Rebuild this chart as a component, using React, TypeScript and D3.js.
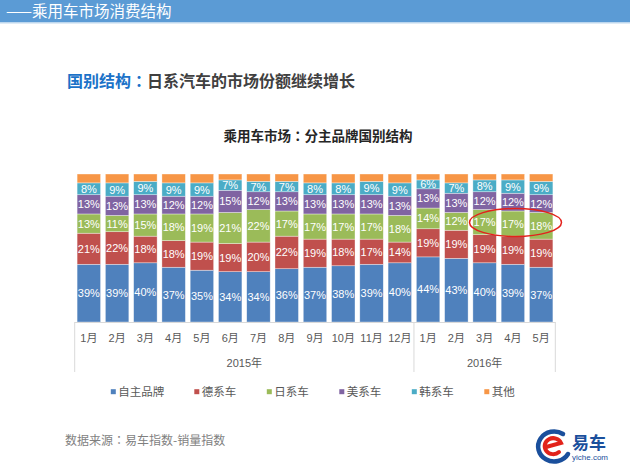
import React from "react";
import * as d3 from "d3";

const months = ["1月","2月","3月","4月","5月","6月","7月","8月","9月","10月","11月","12月","1月","2月","3月","4月","5月"];
const years = [{ label: "2015年", start: 0, end: 12 }, { label: "2016年", start: 12, end: 17 }];
const seriesNames = ["自主品牌","德系车","日系车","美系车","韩系车","其他"];
const seriesColors = ["#4f81bd","#c0504d","#9bbb59","#8064a2","#4bacc6","#f79646"];
const domestic = [39,39,40,37,35,34,34,36,37,38,39,40,44,43,40,39,37];
const german = [21,22,18,18,19,19,20,22,19,18,17,14,19,19,19,19,19];
const japanese = [13,11,15,18,19,21,22,17,17,17,17,18,14,12,17,17,18];
const american = [13,13,13,12,12,15,12,13,13,13,13,13,13,13,12,12,12];
const korean = [8,9,9,9,9,7,7,7,8,8,9,9,6,7,8,9,9];
const others = [6,6,5,6,6,4,5,5,6,6,5,6,4,6,4,4,5];
const labeledSeries = 5;

const FONT = "'Liberation Sans', Arial, 'Noto Sans CJK SC', sans-serif";
const CJK = "'Noto Sans CJK SC', 'Liberation Sans', sans-serif";
const COLON = "'Noto Sans CJK JP', 'Noto Sans CJK SC', sans-serif";

export default function App() {
  const left = 74.7, right = 555.3, top = 174, bottom = 322;
  const x = d3.scaleBand<number>().domain(d3.range(months.length)).range([left, right]).paddingInner(0.17).paddingOuter(0.085);
  const y = d3.scaleLinear().domain([0, 100]).range([bottom, top]);
  const rows = months.map((m, i) => ({
    i,
    s0: domestic[i], s1: german[i], s2: japanese[i], s3: american[i], s4: korean[i], s5: others[i],
  }));
  const keys = ["s0","s1","s2","s3","s4","s5"];
  const stack = d3.stack<any>().keys(keys)(rows);
  const step = (right - left) / months.length;
  const boundary = (k: number) => left + k * step;

  let lx = 113.3;
  const legendItems = seriesNames.map((n, i) => {
    const item = { n, x: lx, c: seriesColors[i] };
    lx += n.length * 11 + 39.5;
    return item;
  });

  return (
    <svg width={630} height={472} style={{ position: "absolute", left: 0, top: 0, background: "#fff" }}>
      <rect x={0} y={0} width={630} height={472} fill="#fff" />
      {/* header */}
      <rect x={0} y={0} width={630} height={22} fill="#5b9bd5" />
      <rect x={0} y={22} width={630} height={1.5} fill="#bdd7ee" />
      <text x={6} y={16.5} fill="#fff" fontSize={15.5} fontFamily={CJK}>——乘用车市场消费结构</text>

      {/* subtitle */}
      <text x={67} y={86.5} fontSize={16} fontWeight="bold" fontFamily={CJK}>
        <tspan fill="#1b72c8">国别结构</tspan>
        <tspan fill="#1b72c8" fontFamily={COLON}>：</tspan>
        <tspan fill="#404040">日系汽车的市场份额继续增长</tspan>
      </text>

      {/* chart title */}
      <text x={318} y={141} textAnchor="middle" fontSize={13.5} fontWeight="bold" fill="#262626" fontFamily={CJK}>
        <tspan>乘用车市场</tspan>
        <tspan fontFamily={COLON}>：</tspan>
        <tspan>分主品牌国别结构</tspan>
      </text>

      {/* bars */}
      {stack.map((layer, si) => (
        <g key={si}>
          {layer.map((d: any, i: number) => (
            <g key={i}>
              <rect x={x(i)} y={y(d[1])} width={x.bandwidth()} height={y(d[0]) - y(d[1])}
                fill={seriesColors[si]} stroke="#ffffff" strokeOpacity={0.6} strokeWidth={0.6} />
              {si < labeledSeries && (
                <text x={(x(i) as number) + x.bandwidth() / 2} y={(y(d[0]) + y(d[1])) / 2 + 4}
                  textAnchor="middle" fill="#fff" fontSize={11} fontFamily={FONT}>
                  {`${d[1] - d[0]}%`}
                </text>
              )}
            </g>
          ))}
        </g>
      ))}

      {/* axis */}
      <line x1={left} x2={right} y1={bottom + 0.5} y2={bottom + 0.5} stroke="#d9d9d9" strokeWidth={1} />
      {[0, 12, 17].map(k => (
        <line key={k} x1={boundary(k)} x2={boundary(k)} y1={bottom} y2={372} stroke="#d9d9d9" strokeWidth={1} />
      ))}
      {months.map((m, i) => (
        <text key={i} x={(x(i) as number) + x.bandwidth() / 2} y={342} textAnchor="middle" fontSize={11} fill="#595959" fontFamily={FONT}>{m}</text>
      ))}
      {years.map(yr => (
        <text key={yr.label} x={(boundary(yr.start) + boundary(yr.end)) / 2} y={366.5} textAnchor="middle" fontSize={11} fill="#595959" fontFamily={FONT}>{yr.label}</text>
      ))}

      {/* highlight ellipse */}
      <ellipse cx={515.5} cy={222.5} rx={46} ry={14} fill="none" stroke="#e3211c" strokeWidth={1.5} />

      {/* legend */}
      {legendItems.map(it => (
        <g key={it.n}>
          <rect x={it.x - 2.5} y={389.2} width={5} height={5} fill={it.c} />
          <text x={it.x + 5} y={395.5} fontSize={11.5} fill="#595959" fontFamily={CJK}>{it.n}</text>
        </g>
      ))}

      {/* source */}
      <text x={65} y={445} fontSize={12} fill="#7f7f7f" fontFamily={CJK}>
        <tspan>数据来源</tspan>
        <tspan fontFamily={COLON}>：</tspan>
        <tspan>易车指数-销量指数</tspan>
      </text>

      {/* logo */}
      <g>
        <path d="M 563 434 A 16 15 0 1 0 568 454" fill="none" stroke="#1a4f9c" strokeWidth={4.5} strokeLinecap="round" />
        <path d="M 546 447 L 561 443 A 8.5 8 0 1 0 559 452" fill="none" stroke="#e2231a" strokeWidth={4} strokeLinecap="round" />
        <text x={572} y={449} fontSize={17} fontWeight="bold" fill="#1a4f9c" fontFamily={CJK}>易车</text>
        <text x={572} y={460} fontSize={8} fill="#1a4f9c" fontFamily={FONT}>yiche.com</text>
      </g>
    </svg>
  );
}
